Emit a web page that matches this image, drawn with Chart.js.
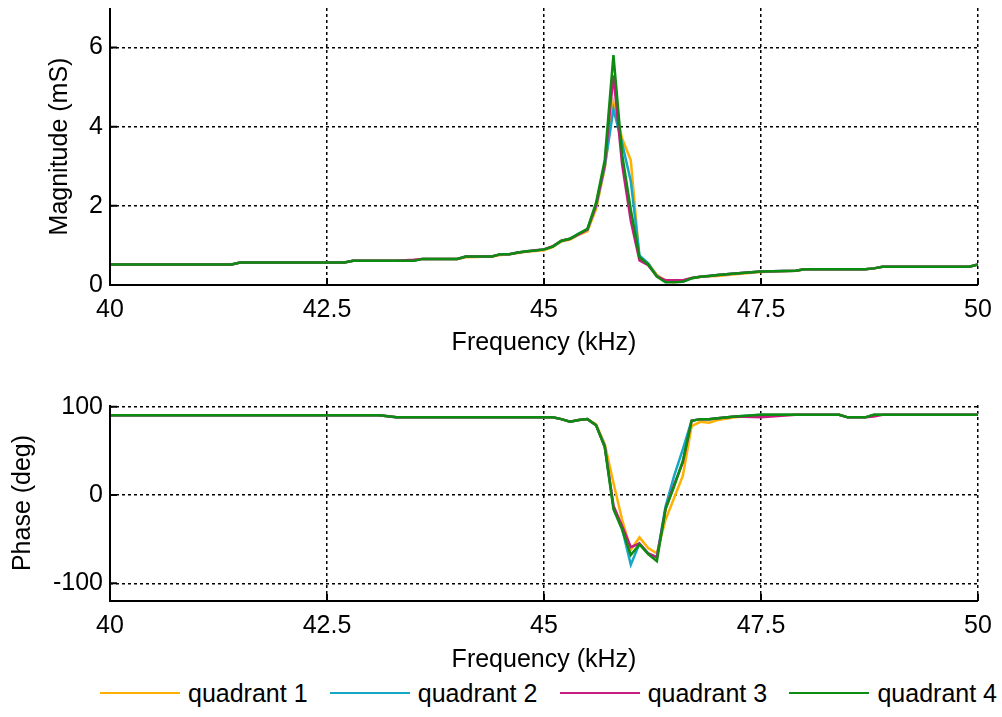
<!DOCTYPE html>
<html>
<head>
<meta charset="utf-8">
<script src="https://cdn.jsdelivr.net/npm/chart.js@4.4.1/dist/chart.umd.min.js"></script>
<style>
  body { margin: 0; background: #fff; width: 1002px; height: 717px; position: relative; overflow: hidden; font-family: "Liberation Sans", Arial, sans-serif; }
  #magWrap { position: absolute; left: 0; top: 0; width: 1002px; height: 365px; }
  #phaseWrap { position: absolute; left: 0; top: 365px; width: 1002px; height: 310px; }
  #legend { position: absolute; left: 100px; top: 678px; width: 897px; height: 30px; display: flex; justify-content: space-between; align-items: center; font-size: 25px; color: #000; white-space: nowrap; }
  .item { display: flex; align-items: center; }
  .swatch { width: 80px; height: 2px; margin-right: 8px; }
</style>
</head>
<body>
<div id="magWrap"><canvas id="magChart"></canvas></div>
<div id="phaseWrap"><canvas id="phaseChart"></canvas></div>
<div id="legend"></div>

<script>
// frequency points (kHz), shared by all series
const freqKHz = [40, 41.4, 41.5, 42.7, 42.8, 43.1, 43.3, 43.5, 43.6, 44.0,
  44.1, 44.4, 44.5, 44.6, 44.7, 44.8, 44.9, 45.0, 45.1, 45.2,
  45.3, 45.4, 45.5, 45.6, 45.7, 45.8, 45.9, 46.0, 46.1, 46.2,
  46.3, 46.4, 46.5, 46.6, 46.7, 46.8, 46.9, 47.0, 47.2, 47.5,
  47.9, 48.0, 48.4, 48.5, 48.7, 48.8, 48.9, 49.9, 50.0];

const seriesNames = ['quadrant 1', 'quadrant 2', 'quadrant 3', 'quadrant 4'];
const seriesColors = ['#FFB000', '#16A6C6', '#C81C80', '#0C8C10'];

// magnitude (mS)
const magQ1 = [0.52, 0.52, 0.57, 0.57, 0.61, 0.61, 0.61, 0.61, 0.66, 0.66,
  0.70, 0.72, 0.76, 0.78, 0.81, 0.84, 0.86, 0.88, 0.96, 1.10,
  1.15, 1.27, 1.36, 1.92, 2.95, 4.60, 3.70, 3.15, 0.66, 0.55,
  0.26, 0.10, 0.07, 0.10, 0.17, 0.20, 0.22, 0.23, 0.27, 0.33,
  0.36, 0.40, 0.40, 0.40, 0.40, 0.42, 0.46, 0.46, 0.52];
const magQ2 = [0.52, 0.52, 0.57, 0.57, 0.61, 0.61, 0.61, 0.61, 0.66, 0.66,
  0.72, 0.72, 0.78, 0.78, 0.82, 0.85, 0.87, 0.90, 0.97, 1.11,
  1.17, 1.29, 1.40, 2.00, 3.00, 4.44, 3.58, 2.62, 0.75, 0.55,
  0.23, 0.09, 0.08, 0.09, 0.17, 0.21, 0.23, 0.25, 0.29, 0.34,
  0.36, 0.40, 0.40, 0.40, 0.40, 0.42, 0.46, 0.46, 0.52];
const magQ3 = [0.52, 0.52, 0.57, 0.57, 0.61, 0.61, 0.61, 0.64, 0.66, 0.66,
  0.72, 0.72, 0.78, 0.78, 0.82, 0.85, 0.88, 0.90, 0.98, 1.12,
  1.17, 1.28, 1.40, 2.02, 3.05, 5.30, 3.05, 1.62, 0.62, 0.50,
  0.22, 0.12, 0.12, 0.12, 0.18, 0.21, 0.23, 0.25, 0.29, 0.34,
  0.36, 0.40, 0.40, 0.40, 0.40, 0.42, 0.46, 0.46, 0.52];
const magQ4 = [0.52, 0.52, 0.57, 0.57, 0.61, 0.61, 0.61, 0.61, 0.66, 0.66,
  0.72, 0.72, 0.78, 0.78, 0.82, 0.85, 0.87, 0.90, 0.97, 1.12,
  1.17, 1.30, 1.42, 2.08, 3.16, 5.81, 3.30, 1.90, 0.70, 0.52,
  0.21, 0.07, 0.07, 0.08, 0.17, 0.21, 0.23, 0.25, 0.29, 0.34,
  0.36, 0.40, 0.40, 0.40, 0.40, 0.42, 0.46, 0.46, 0.52];

// phase (deg)
const phaseQ1 = [90.5, 90.5, 90.5, 90.5, 90.5, 90.5, 88, 88, 88, 88,
  88, 88, 88, 88, 88, 88, 88, 88, 88, 86,
  83, 85, 86, 80, 58, 14, -28, -62, -48, -60,
  -66, -28, -3, 22, 78, 83, 82, 85, 88, 91,
  91, 91, 91, 88, 88, 91, 91, 91, 91];
const phaseQ2 = [90.5, 90.5, 90.5, 90.5, 90.5, 90.5, 88, 88, 88, 88,
  88, 88, 88, 88, 88, 88, 88, 88, 88, 86,
  83, 85, 86, 79, 56, -13, -38, -79, -55, -66,
  -70, -13, 22, 52, 84, 86, 86, 87, 89, 91,
  91, 91, 91, 88, 88, 91, 91, 91, 91];
const phaseQ3 = [90.5, 90.5, 90.5, 90.5, 90.5, 90.5, 88, 88, 88, 88,
  88, 88, 88, 88, 88, 88, 88, 88, 88, 86,
  83, 85, 86, 79, 55, -12, -35, -59, -55, -66,
  -71, -16, 12, 37, 84, 86, 86, 87, 89, 88,
  91, 91, 91, 88, 88, 89, 91, 91, 91];
const phaseQ4 = [90.5, 90.5, 90.5, 90.5, 90.5, 90.5, 88, 88, 88, 88,
  88, 88, 88, 88, 88, 88, 88, 88, 88, 86,
  83, 85, 86, 79, 54, -16, -39, -68, -56, -67,
  -75, -16, 10, 39, 84, 86, 86, 87, 89, 91,
  91, 91, 91, 88, 88, 91, 91, 91, 91];

// tick values
const freqTicks = [40, 42.5, 45, 47.5, 50];
const magTicks = [0, 2, 4, 6];
const phaseTicks = [-100, 0, 100];

const FONT = { family: '"Liberation Sans", Arial, sans-serif', size: 25 };

// solid left/bottom axes plus short matlab-like ticks pointing into the plot
const solidAxes = {
    id: 'solidAxes',
    afterDraw(chart) {
        const { ctx, chartArea: a, scales } = chart;
        ctx.save();
        ctx.strokeStyle = '#000';
        ctx.lineWidth = 2;
        ctx.setLineDash([]);
        ctx.beginPath();
        ctx.moveTo(a.left, a.top);
        ctx.lineTo(a.left, a.bottom);
        ctx.lineTo(a.right, a.bottom);
        scales.x.ticks.forEach(t => {
            const px = scales.x.getPixelForValue(t.value);
            ctx.moveTo(px, a.bottom);
            ctx.lineTo(px, a.bottom - 7);
        });
        scales.y.ticks.forEach(t => {
            const py = scales.y.getPixelForValue(t.value);
            ctx.moveTo(a.left, py);
            ctx.lineTo(a.left + 7, py);
        });
        ctx.stroke();
        ctx.restore();
    }
};

function buildDatasets(arrays) {
    // green drawn last (on top), yellow at the bottom
    return arrays.map((arr, i) => ({
        label: seriesNames[i],
        data: freqKHz.map((f, j) => ({ x: f, y: arr[j] })),
        borderColor: seriesColors[i],
        backgroundColor: seriesColors[i],
        borderWidth: 2.5,
        pointRadius: 0,
        tension: 0,
        order: 4 - i
    }));
}

function makeChart(id, arrays, yMin, yMax, yTicks, yTitle, yTitlePad, padTop, xHeight, xTitlePad) {
    const gridOpts = {
        color: '#000',
        lineWidth: 1.5,
        drawTicks: false
    };
    // border.dash is what dashes the grid lines in v4; the axis lines are redrawn solid by the plugin
    const borderOpts = { display: false, dash: [3, 3] };
    return new Chart(document.getElementById(id), {
        type: 'line',
        data: { datasets: buildDatasets(arrays) },
        options: {
            responsive: true,
            maintainAspectRatio: false,
            animation: false,
            layout: { padding: { top: padTop, right: 24, left: 0, bottom: 0 } },
            plugins: { legend: { display: false }, tooltip: { enabled: false } },
            scales: {
                x: {
                    type: 'linear',
                    min: 40,
                    max: 50,
                    afterBuildTicks: s => { s.ticks = freqTicks.map(v => ({ value: v })); },
                    afterFit: s => { s.height = xHeight; },
                    ticks: { color: '#000', font: FONT, padding: 10, maxRotation: 0 },
                    grid: gridOpts,
                    border: borderOpts,
                    title: { display: true, text: 'Frequency (kHz)', color: '#000', font: FONT, padding: { top: 0, bottom: xTitlePad } }
                },
                y: {
                    min: yMin,
                    max: yMax,
                    afterBuildTicks: s => { s.ticks = yTicks.map(v => ({ value: v })); },
                    afterFit: s => { s.width = 110; s.paddingTop = 0; s.paddingBottom = 0; },
                    ticks: { color: '#000', font: FONT, padding: 7 },
                    grid: gridOpts,
                    border: borderOpts,
                    title: { display: true, text: yTitle, color: '#000', font: FONT, padding: { top: yTitlePad, bottom: 0 } }
                }
            }
        },
        plugins: [solidAxes]
    });
}

makeChart('magChart', [magQ1, magQ2, magQ3, magQ4], 0, 7, magTicks, 'Magnitude (mS)', 45, 8, 80, 7);
makeChart('phaseChart', [phaseQ1, phaseQ2, phaseQ3, phaseQ4], -120, 102, phaseTicks, 'Phase (deg)', 8, 40, 74, 0);

// shared legend under both plots
const legend = document.getElementById('legend');
seriesNames.forEach((name, i) => {
    const item = document.createElement('div');
    item.className = 'item';
    const sw = document.createElement('span');
    sw.className = 'swatch';
    sw.style.background = seriesColors[i];
    const txt = document.createElement('span');
    txt.textContent = name;
    item.appendChild(sw);
    item.appendChild(txt);
    legend.appendChild(item);
});
</script>
</body>
</html>
